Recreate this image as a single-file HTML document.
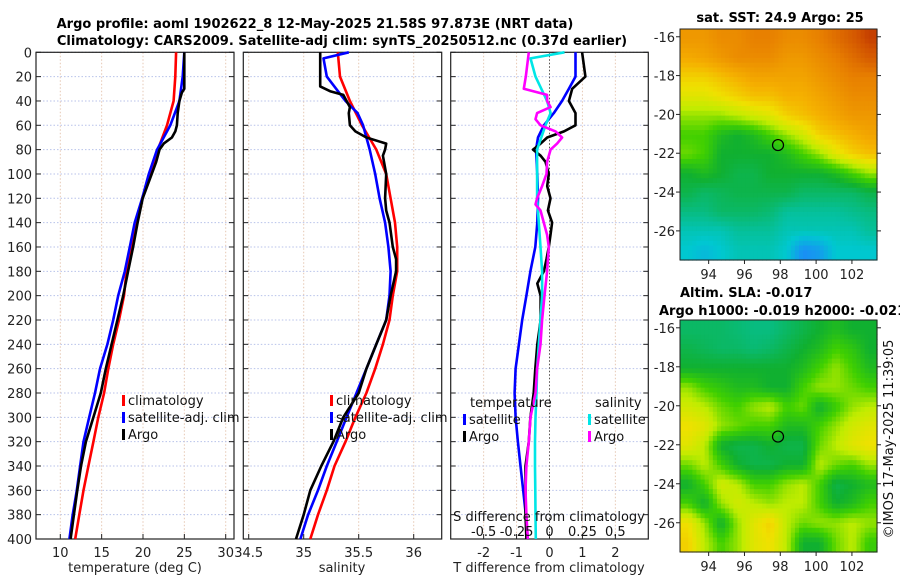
<!DOCTYPE html>
<html><head><meta charset="utf-8">
<style>
html,body{margin:0;padding:0;background:#fff;}
svg{display:block;font-family:"DejaVu Sans","Liberation Sans",sans-serif;}
</style></head>
<body>
<svg id="c" width="900" height="580" viewBox="0 0 900 580" xmlns="http://www.w3.org/2000/svg"></svg>
<script>
// ---------------- data ----------------
const depthTicks = [0,20,40,60,80,100,120,140,160,180,200,220,240,260,280,300,320,340,360,380,400];
const tempTicks = [10,15,20,25,30];
const salTicks = ["34.5","35","35.5","36"];
const tdiffTicks = [-2,-1,0,1,2];
const sdiffTickLabels = ["-0.5","-0.25","0","0.25","0.5"];
const sdiffTicks = [-0.5,-0.25,0,0.25,0.5];

const stdDepth = [0,20,40,60,80,100,120,140,160,180,200,220,240,260,280,300,320,340,360,380,400];
const tempClim = [24.0,23.9,23.7,22.9,21.8,20.9,19.9,19.3,18.6,18.0,17.7,17.1,16.4,15.8,15.3,14.6,14.0,13.4,12.8,12.3,11.8];
const tempSat  = [25.0,24.8,24.4,23.3,21.7,20.7,19.9,19.0,18.4,17.8,17.0,16.4,15.7,14.8,14.2,13.5,12.8,12.4,12.0,11.5,11.1];
const salClim = [35.31,35.33,35.42,35.53,35.66,35.75,35.79,35.83,35.85,35.85,35.81,35.78,35.72,35.65,35.57,35.47,35.38,35.28,35.21,35.13,35.06];
const salSatDepth = [0,5,20,40,50,60,80,100,120,140,160,180,200,220,240,260,280,300,320,340,360,380,400];
const salSat = [35.41,35.18,35.21,35.38,35.49,35.54,35.60,35.65,35.69,35.74,35.77,35.79,35.78,35.75,35.66,35.57,35.48,35.39,35.30,35.21,35.13,35.04,34.97];

const argoTDepth = [0,30,33,40,50,60,65,70,75,80,90,100,120,140,160,180,200,220,240,260,280,300,320,340,360,380,400];
const argoTemp = [25.0,25.0,24.7,24.4,24.2,24.1,23.9,23.5,22.5,22.0,21.6,21.05,19.96,19.35,18.8,18.2,17.6,16.9,16.2,15.5,14.9,14.0,13.1,12.5,12.05,11.65,11.25];
const argoSDepth = [0,28,32,35,45,50,60,65,70,75,80,85,100,120,130,140,160,170,180,200,220,240,260,280,300,320,340,360,380,400];
const argoSal = [35.15,35.15,35.24,35.36,35.42,35.41,35.42,35.47,35.57,35.75,35.74,35.72,35.75,35.74,35.75,35.78,35.81,35.84,35.84,35.79,35.75,35.66,35.57,35.50,35.36,35.27,35.16,35.06,35.0,34.93];

const tdiffSatDepth = [0,20,30,40,50,60,70,80,100,120,140,160,180,200,220,240,260,280,300,320,340,360,380,400];
const tdiffSat = [0.79,0.79,0.59,0.38,0.13,-0.17,-0.35,-0.41,-0.37,-0.35,-0.37,-0.43,-0.58,-0.70,-0.83,-0.93,-1.03,-1.06,-1.03,-0.96,-0.88,-0.80,-0.72,-0.66];
const tdiffArgoDepth = [0,20,30,40,50,60,65,70,75,80,85,90,100,110,120,130,140,150,160,170,180,190,200,210,220,230,240,260,280,300,320,340,360,380,400];
const tdiffArgo = [0.99,1.09,0.69,0.59,0.79,0.79,0.44,-0.07,-0.27,-0.5,-0.27,-0.12,-0.02,-0.07,0.03,-0.05,0.08,0.03,-0.02,-0.09,-0.17,-0.37,-0.27,-0.27,-0.27,-0.32,-0.37,-0.43,-0.48,-0.58,-0.63,-0.73,-0.73,-0.73,-0.70];
const sdiffSatDepth = [0,5,20,40,50,60,80,100,120,140,160,180,200,220,240,260,280,300,320,340,360,380,400];
const sdiffSat = [0.114,-0.144,-0.106,-0.018,0.008,-0.03,-0.094,-0.094,-0.094,-0.081,-0.068,-0.056,-0.056,-0.068,-0.081,-0.094,-0.099,-0.106,-0.11,-0.11,-0.108,-0.106,-0.104];
const sdiffArgoDepth = [0,20,30,35,40,45,50,55,60,65,70,75,80,90,100,110,120,125,130,140,150,160,180,200,220,240,260,280,300,320,340,360,380,400];
const sdiffArgo = [-0.157,-0.18,-0.195,-0.018,-0.018,0.008,-0.094,-0.106,-0.068,0.046,0.096,0.058,0.008,-0.018,-0.023,-0.056,-0.094,-0.106,-0.068,-0.043,-0.018,-0.005,-0.018,-0.038,-0.056,-0.068,-0.094,-0.106,-0.144,-0.157,-0.175,-0.182,-0.175,-0.165];

const lonTicks = [94,96,98,100,102];
const latTicks = [-16,-18,-20,-22,-24,-26];
const argoLon = 97.873, argoLat = -21.58;
const sstGrid = [
[0.78,0.78,0.80,0.80,0.82,0.82,0.80,0.80,0.82,0.85,0.88,0.92],
[0.75,0.76,0.78,0.80,0.80,0.80,0.78,0.78,0.80,0.82,0.85,0.88],
[0.70,0.70,0.72,0.74,0.76,0.76,0.76,0.76,0.78,0.80,0.82,0.82],
[0.66,0.66,0.68,0.70,0.72,0.72,0.74,0.74,0.76,0.78,0.80,0.80],
[0.60,0.60,0.60,0.62,0.64,0.66,0.70,0.72,0.74,0.76,0.78,0.78],
[0.56,0.56,0.52,0.50,0.52,0.56,0.60,0.64,0.70,0.72,0.74,0.76],
[0.58,0.56,0.50,0.50,0.50,0.50,0.52,0.56,0.60,0.66,0.70,0.72],
[0.50,0.52,0.50,0.48,0.48,0.50,0.50,0.50,0.50,0.52,0.56,0.60],
[0.48,0.46,0.47,0.48,0.48,0.48,0.48,0.46,0.46,0.46,0.46,0.48],
[0.44,0.44,0.46,0.46,0.46,0.45,0.42,0.42,0.42,0.42,0.43,0.44],
[0.40,0.40,0.40,0.42,0.42,0.42,0.40,0.40,0.40,0.40,0.40,0.42],
[0.38,0.36,0.38,0.40,0.40,0.40,0.38,0.30,0.32,0.38,0.38,0.38]];
const slaGrid = [
[0.46,0.46,0.46,0.45,0.44,0.44,0.46,0.48,0.50,0.52,0.50,0.50],
[0.48,0.47,0.46,0.46,0.45,0.46,0.48,0.50,0.52,0.56,0.54,0.50],
[0.50,0.50,0.50,0.50,0.50,0.50,0.50,0.52,0.56,0.60,0.56,0.52],
[0.60,0.56,0.54,0.52,0.52,0.50,0.50,0.56,0.60,0.60,0.58,0.56],
[0.64,0.62,0.58,0.56,0.60,0.62,0.56,0.58,0.50,0.55,0.60,0.62],
[0.68,0.66,0.60,0.58,0.56,0.56,0.52,0.52,0.56,0.60,0.64,0.66],
[0.66,0.62,0.50,0.48,0.48,0.50,0.48,0.48,0.58,0.62,0.66,0.68],
[0.58,0.62,0.56,0.50,0.48,0.48,0.50,0.50,0.62,0.58,0.56,0.60],
[0.50,0.56,0.64,0.62,0.56,0.56,0.60,0.62,0.56,0.48,0.50,0.52],
[0.56,0.50,0.60,0.64,0.62,0.60,0.62,0.62,0.56,0.50,0.52,0.56],
[0.68,0.60,0.50,0.60,0.66,0.70,0.62,0.58,0.60,0.60,0.62,0.60],
[0.70,0.62,0.56,0.60,0.66,0.68,0.62,0.50,0.50,0.58,0.62,0.55]];

// ---------------- helpers ----------------
const NS="http://www.w3.org/2000/svg";
const svg=document.getElementById('c');
function mk(tag,attrs,parent){const e=document.createElementNS(NS,tag);for(const k in attrs)e.setAttribute(k,attrs[k]);(parent||svg).appendChild(e);return e;}
function txt(s,x,y,attrs,parent){const e=mk('text',Object.assign({x:x,y:y,'font-size':13,fill:'#222'},attrs||{}),parent);e.textContent=s;return e;}
const Y0=52.3, Y1=539;
function yD(d){return Y0+(Y1-Y0)*d/400;}
function lin(d0,d1,r0,r1){return v=>r0+(v-d0)*(r1-r0)/(d1-d0);}

function panel(name,x0,x1,xs,xticks,xlabels,showY){
  const g=mk('g',{});
  
  
  xticks.forEach(v=>{const gl=mk('line',{x1:xs(v),x2:xs(v),y1:Y0,y2:Y1,stroke:'#e6c8b4','stroke-width':1,'stroke-dasharray':'1.5,2'},g);
    });
  depthTicks.forEach(d=>{const gl=mk('line',{x1:x0,x2:x1,y1:yD(d),y2:yD(d),stroke:'#b8c2ea','stroke-width':1,'stroke-dasharray':'1.5,2'},g);
    
    mk('line',{x1:x0,x2:x0+5,y1:yD(d),y2:yD(d),stroke:'#222'},g);
    mk('line',{x1:x1-5,x2:x1,y1:yD(d),y2:yD(d),stroke:'#222'},g);
    if(showY){const t=txt(String(d),x0-4,yD(d)+5,{'text-anchor':'end'},g);}
  });
  if(xlabels) xticks.forEach((v,i)=>{mk('line',{x1:xs(v),x2:xs(v),y1:Y1,y2:Y1-5,stroke:'#222'},g);
    const t=txt(xlabels[i],xs(v),557,{'text-anchor':'middle'},g);});
  const b=mk('rect',{x:x0,y:Y0,width:x1-x0,height:Y1-Y0,fill:'none',stroke:'#222','stroke-width':1.2},g);
  
  return g;
}
function line(g,name,xs,vals,depths,color,w){
  const pts=vals.map((v,i)=>xs(v).toFixed(1)+','+yD(depths[i]).toFixed(1)).join(' ');
  const p=mk('polyline',{points:pts,fill:'none',stroke:color,'stroke-width':w||2.6,'stroke-linejoin':'round'},g);
  
  
}
function legendItem(g,name,x,y,color,label){
  const gi=mk('g',{},g);
  
  
  mk('rect',{x:x,y:y-10,width:3,height:11,fill:color},gi);
  txt(label,x+6,y,{fill:'#111'},gi);
}

// ---------------- panel 1: temperature ----------------
const xT=lin(10,30,60.3,225.7);
const g1=panel('temperature-panel',36,234,xT,tempTicks,tempTicks.map(String),true);
line(g1,'temp-climatology-line',xT,tempClim,stdDepth,'#ff0000');
line(g1,'temp-satellite-line',xT,tempSat,stdDepth,'#0000ff');
line(g1,'temp-argo-line',xT,argoTemp,argoTDepth,'#000000');
legendItem(g1,'legend-climatology',122,405,'#ff0000','climatology');
legendItem(g1,'legend-satellite-adj',122,422,'#0000ff','satellite-adj. clim');
legendItem(g1,'legend-argo',122,439,'#000','Argo');
{const t=txt('temperature (deg C)',135,572,{'text-anchor':'middle'});}

// ---------------- panel 2: salinity ----------------
const xS=lin(34.5,36,248.7,413.7);
const g2=panel('salinity-panel',243.3,441.7,xS,salTicks.map(Number),salTicks,false);
line(g2,'sal-climatology-line',xS,salClim,stdDepth,'#ff0000');
line(g2,'sal-satellite-line',xS,salSat,salSatDepth,'#0000ff');
line(g2,'sal-argo-line',xS,argoSal,argoSDepth,'#000000');
legendItem(g2,'legend-climatology-sal',330,405,'#ff0000','climatology');
legendItem(g2,'legend-satellite-adj-sal',330,422,'#0000ff','satellite-adj. clim');
legendItem(g2,'legend-argo-sal',330,439,'#000','Argo');
{const t=txt('salinity',342,572,{'text-anchor':'middle'});}

// ---------------- panel 3: differences ----------------
const xTd=lin(-3,3,450.7,648.3);
const xSd=lin(-0.75,0.75,450.7,648.3);
const g3=panel('difference-panel',450.7,648.3,xTd,tdiffTicks,tdiffTicks.map(String),false);
{const z=mk('line',{x1:xTd(0),x2:xTd(0),y1:Y0,y2:Y1,stroke:'#555','stroke-width':1,'stroke-dasharray':'1.5,2'},g3);}
line(g3,'tdiff-satellite-line',xTd,tdiffSat,tdiffSatDepth,'#0000ff');
line(g3,'tdiff-argo-line',xTd,tdiffArgo,tdiffArgoDepth,'#000000');
line(g3,'sdiff-satellite-line',xSd,sdiffSat,sdiffSatDepth,'#00e6e6');
line(g3,'sdiff-argo-line',xSd,sdiffArgo,sdiffArgoDepth,'#ff00ff');
{const t=txt('temperature',470,407,{fill:'#111'},g3);
 const t2=txt('salinity',595,407,{fill:'#111'},g3);}
legendItem(g3,'legend-tdiff-satellite',463,424,'#0000ff','satellite');
legendItem(g3,'legend-tdiff-argo',463,441,'#000','Argo');
legendItem(g3,'legend-sdiff-satellite',588,424,'#00e6e6','satellite');
legendItem(g3,'legend-sdiff-argo',588,441,'#ff00ff','Argo');
{const t=txt('S difference from climatology',549,521,{'text-anchor':'middle',fill:'#111'},g3);}
sdiffTicks.forEach((v,i)=>{const t=txt(sdiffTickLabels[i],xSd(v),536,{'text-anchor':'middle',fill:'#111'},g3);});
{const t=txt('T difference from climatology',549,572,{'text-anchor':'middle'});}

// ---------------- titles ----------------
{const t=txt('Argo profile: aoml 1902622_8 12-May-2025 21.58S 97.873E (NRT data)',315,28,{'text-anchor':'middle','font-weight':'bold',fill:'#000'});
 const t2=txt('Climatology: CARS2009. Satellite-adj clim: synTS_20250512.nc (0.37d earlier)',342,45,{'text-anchor':'middle','font-weight':'bold',fill:'#000'});}

// ---------------- maps ----------------
const stops=[[0.28,[32,128,255]],[0.38,[0,200,208]],[0.5,[16,176,48]],[0.56,[64,208,0]],[0.62,[192,236,0]],[0.68,[240,224,0]],[0.74,[245,176,0]],[0.82,[232,128,0]],[0.9,[208,80,0]],[0.96,[176,32,0]]];
function cmap(v){if(v<=stops[0][0])return 'rgb('+stops[0][1]+')';
  for(let i=1;i<stops.length;i++){if(v<=stops[i][0]){const a=stops[i-1],b=stops[i],f=(v-a[0])/(b[0]-a[0]);
    return 'rgb('+a[1].map((c,k)=>Math.round(c+(b[1][k]-c)*f)).join(',')+')';}}
  return 'rgb('+stops[stops.length-1][1]+')';}
function sample(grid,fr,fc){
  const rows=grid.length, cols=grid[0].length;
  const r=Math.max(0,Math.min(rows-1,fr)), c=Math.max(0,Math.min(cols-1,fc));
  const r0=Math.floor(r), c0=Math.floor(c), r1=Math.min(rows-1,r0+1), c1=Math.min(cols-1,c0+1);
  const a=r-r0, b=c-c0;
  return grid[r0][c0]*(1-a)*(1-b)+grid[r0][c1]*(1-a)*b+grid[r1][c0]*a*(1-b)+grid[r1][c1]*a*b;
}
function map(name,grid,top,bottom){
  const x0=680,x1=877;
  const xL=lin(92.4,103.4,x0,x1), yL=lin(-15.6,-27.5,top,bottom);
  const g=mk('g',{});
  
  
  const rows=grid.length, cols=grid[0].length, S=4;
  const cw=(x1-x0)/(cols*S), ch=(bottom-top)/(rows*S);
  for(let r=0;r<rows*S;r++){for(let c=0;c<cols*S;c++){
    const v=sample(grid,(r+0.5)/S-0.5,(c+0.5)/S-0.5);
    const cell=mk('rect',{x:(x0+c*cw).toFixed(2),y:(top+r*ch).toFixed(2),width:(cw+0.6).toFixed(2),height:(ch+0.6).toFixed(2),fill:cmap(v)},g);
    
    
  }}
  mk('rect',{x:x0,y:top,width:x1-x0,height:bottom-top,fill:'none',stroke:'#222','stroke-width':1},g);
  lonTicks.forEach(v=>{mk('line',{x1:xL(v),x2:xL(v),y1:bottom,y2:bottom+4,stroke:'#222'},g);
    const t=txt(String(v),xL(v),bottom+19,{'text-anchor':'middle'},g);});
  latTicks.forEach(v=>{mk('line',{x1:x0-4,x2:x0,y1:yL(v),y2:yL(v),stroke:'#222'},g);
    mk('line',{x1:x1,x2:x1+4,y1:yL(v),y2:yL(v),stroke:'#222'},g);
    const t=txt(String(v),x0-5,yL(v)+5,{'text-anchor':'end'},g);});
  const m=mk('circle',{cx:xL(argoLon),cy:yL(argoLat),r:5.5,fill:'none',stroke:'#000','stroke-width':1.2},g);
  
  
}
map('sst-map',sstGrid,29,260);
map('sla-map',slaGrid,320,552);
{const t=txt('sat. SST: 24.9 Argo: 25',780,22,{'text-anchor':'middle','font-weight':'bold',fill:'#000'});
 const t2=txt('Altim. SLA: -0.017',680,297,{'font-weight':'bold',fill:'#000'});
 const t3=txt('Argo h1000: -0.019 h2000: -0.021',659,315,{'font-weight':'bold',fill:'#000'});
 const t4=txt('©IMOS 17-May-2025 11:39:05',893,439,{'text-anchor':'middle',transform:'rotate(-90 893 439)',fill:'#111'});}
</script>
</body></html>
